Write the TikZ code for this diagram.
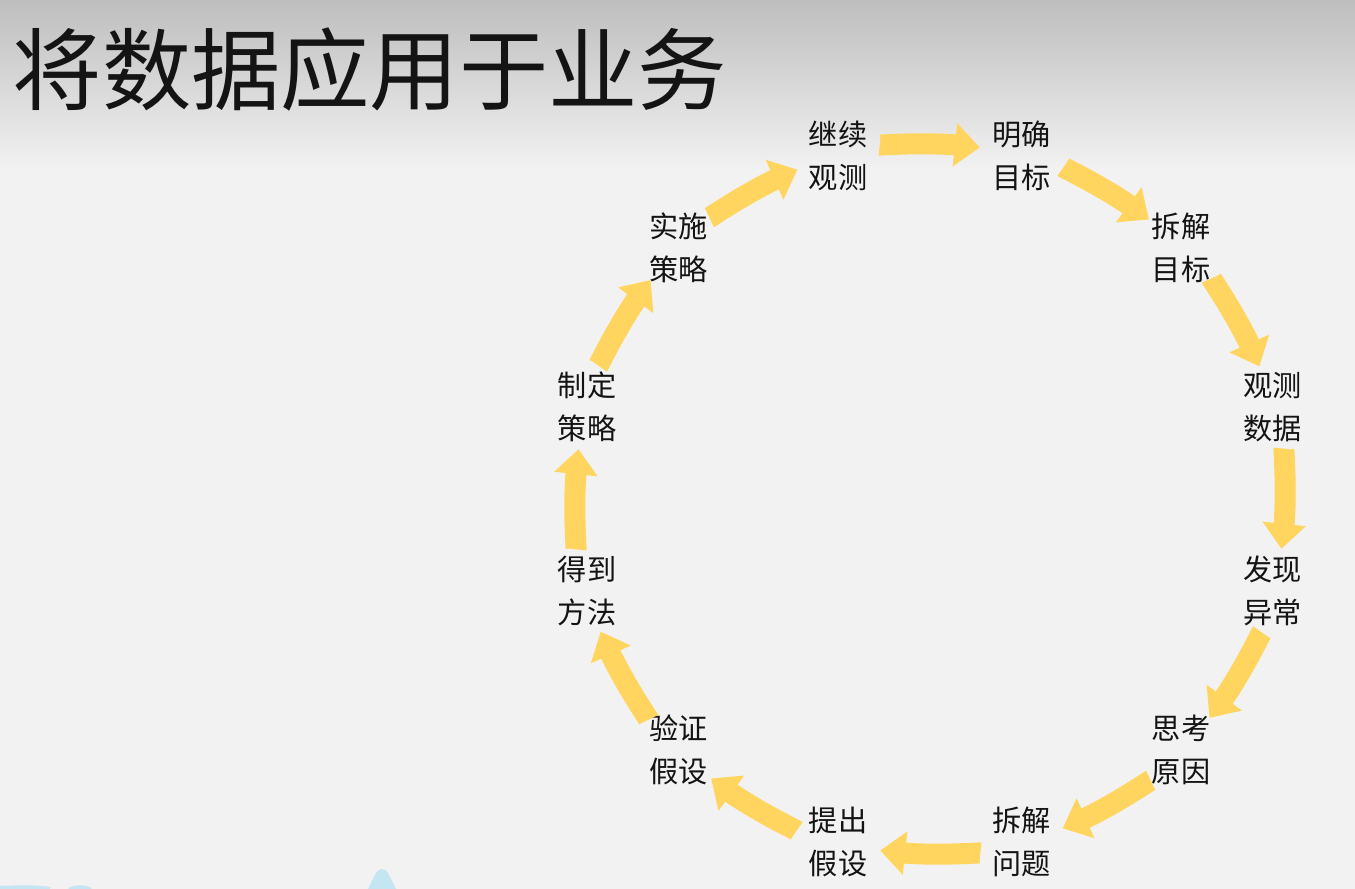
\documentclass[tikz,border=0pt]{standalone}
\usepackage{fontspec}
\usepackage{xcolor}
\usetikzlibrary{arrows.meta, bending, calc, positioning}
\newfontfamily\cjk{Noto Sans CJK SC}
\definecolor{bgcolor}{RGB}{242,242,242}
\definecolor{topcolor}{RGB}{190,190,190}
\definecolor{flowcolor}{RGB}{255,213,96}
\definecolor{textcolor}{RGB}{20,20,20}
\definecolor{decocolor}{RGB}{196,230,242}
\tikzset{
    steptext/.style={align=center, inner sep=0pt, font=\cjk\fontsize{8.3pt}{12.2pt}\selectfont, text=textcolor},
    flow/.style={draw=flowcolor, line width=0.21cm, -{Triangle[length=0.25cm, width=0.42cm]},
        shorten <=0.43cm, shorten >=0.43cm, bend left=15, looseness=0.87}
}

\begin{document}
\begin{tikzpicture}[x=0.01cm, y=0.01cm]
    \useasboundingbox (0,0) rectangle (1355,889);
    
    % Background
    \fill[bgcolor] (0,0) rectangle (1355,889);
    \shade[top color=topcolor, bottom color=bgcolor] (0,719) rectangle (1355,889);
    
    % Bottom decoration
    \fill[decocolor] (0,0) -- (0,3) .. controls (20,4) and (40,4) .. (50,2) -- (50,0) -- cycle;
    \fill[decocolor] (68,0) .. controls (72,5) and (88,5) .. (92,0) -- cycle;
    \fill[decocolor] (368,0) .. controls (375,14) and (377,20) .. (382,20) .. controls (387,20) and (389,14) .. (396,0) -- cycle;
    
    % Title
    \node[anchor=base west, inner sep=0pt, font=\cjk\fontsize{25.4pt}{30pt}\selectfont, text=textcolor] (title) at (12,785) {将数据应用于业务};
    
    % Steps round the circle
    \coordinate (hub) at (930,390);
    \foreach \name/\ang/\txt in {obs/105/继续\\观测, goal/75/明确\\目标, split/45/拆解\\目标,
        data/15/观测\\数据, anomaly/-15/发现\\异常, reason/-45/思考\\原因,
        issue/-75/拆解\\问题, hypo/-105/提出\\假设, verify/-135/验证\\假设,
        method/-165/得到\\方法, plan/165/制定\\策略, act/135/实施\\策略} {
        \node[steptext] (\name) at ($(hub)+(\ang:355)$) {\txt};
    }
    
    % Flow arrows
    \foreach \src/\dst in {obs/goal, goal/split, split/data, data/anomaly, anomaly/reason,
        reason/issue, issue/hypo, hypo/verify, verify/method, method/plan, plan/act, act/obs} {
        \draw[flow] (\src.center) to (\dst.center);
    }
    
\end{tikzpicture}
\end{document}
